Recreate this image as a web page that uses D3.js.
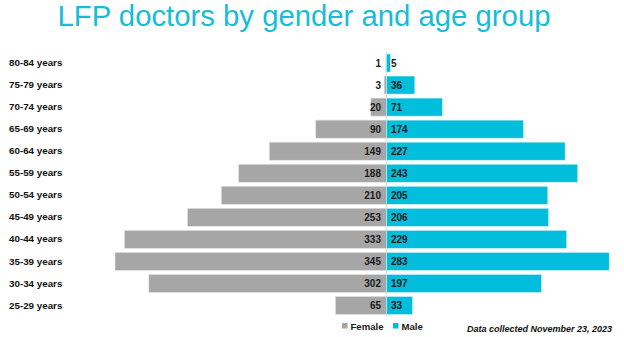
<!DOCTYPE html>
<html>
<head>
<meta charset="utf-8">
<script src="https://cdn.jsdelivr.net/npm/d3@7"></script>
<style>
  html, body { margin: 0; padding: 0; background: #fff; }
  svg { display: block; font-family: "Liberation Sans", Arial, sans-serif; }
</style>
</head>
<body>
<svg id="chart" width="624" height="337"></svg>
<script>
// Age groups, oldest at the top
const ageGroups = ["80-84 years", "75-79 years", "70-74 years", "65-69 years", "60-64 years",
  "55-59 years", "50-54 years", "45-49 years", "40-44 years", "35-39 years", "30-34 years", "25-29 years"];
const female = [1, 3, 20, 90, 149, 188, 210, 253, 333, 345, 302, 65];
const male = [5, 36, 71, 174, 227, 243, 205, 206, 229, 283, 197, 33];
const seriesNames = ["Female", "Male"];

const colors = { Female: "#A6A6A6", Male: "#00BEDC" };
const titleColor = "#17BCD7";

const svg = d3.select("#chart");
const centerX = 386.5;

// One scale shared by both sides so bar lengths are comparable
const len = d3.scaleLinear().domain([0, 345]).range([0, 271.5]);
const y = d3.scaleBand().domain(ageGroups).range([52, 316.5]).paddingInner(0.18).paddingOuter(0.09);

// Title
svg.append("text")
  .attr("x", 304).attr("y", 26)
  .attr("text-anchor", "middle")
  .attr("font-size", 29.3)
  .attr("fill", titleColor)
  .text("LFP doctors by gender and age group");

// Centre divider
svg.append("line")
  .attr("x1", centerX).attr("x2", centerX)
  .attr("y1", y.range()[0]).attr("y2", y.range()[1])
  .attr("stroke", "#D9D9D9").attr("stroke-width", 1);

const rows = ageGroups.map((g, i) => ({ group: g, f: female[i], m: male[i] }));

// Female bars extend to the left
svg.append("g").selectAll("rect").data(rows).join("rect")
  .attr("x", d => centerX - len(d.f))
  .attr("y", d => y(d.group))
  .attr("width", d => len(d.f))
  .attr("height", y.bandwidth())
  .attr("fill", colors.Female)
  .attr("stroke", "#E6E6E6").attr("stroke-width", 0.6);

// Male bars extend to the right
svg.append("g").selectAll("rect").data(rows).join("rect")
  .attr("x", centerX)
  .attr("y", d => y(d.group))
  .attr("width", d => len(d.m))
  .attr("height", y.bandwidth())
  .attr("fill", colors.Male)
  .attr("stroke", "#D6F3F8").attr("stroke-width", 0.6);

// Value labels beside the centre line
const valFont = { size: 10, weight: "bold", fill: "#1A1A1A" };
svg.append("g").selectAll("text").data(rows).join("text")
  .attr("x", centerX - 5.5)
  .attr("y", d => y(d.group) + y.bandwidth() / 2)
  .attr("dy", "0.36em")
  .attr("text-anchor", "end")
  .attr("font-size", valFont.size).attr("font-weight", valFont.weight).attr("fill", valFont.fill)
  .text(d => d.f);
svg.append("g").selectAll("text").data(rows).join("text")
  .attr("x", centerX + 4.5)
  .attr("y", d => y(d.group) + y.bandwidth() / 2)
  .attr("dy", "0.36em")
  .attr("text-anchor", "start")
  .attr("font-size", valFont.size).attr("font-weight", valFont.weight).attr("fill", valFont.fill)
  .text(d => d.m);

// Category axis on the far left
const axis = d3.axisLeft(y).tickSize(0).tickPadding(0);
const axisG = svg.append("g").attr("transform", "translate(9,0)").call(axis);
axisG.select(".domain").remove();
axisG.selectAll("text")
  .attr("text-anchor", "start")
  .attr("x", 0)
  .attr("font-size", 9.8)
  .attr("font-weight", "bold")
  .attr("fill", "#111")
  .attr("font-family", "'Liberation Sans', Arial, sans-serif");

// Legend
const legendX = { Female: 342, Male: 393 };
const legend = svg.append("g").selectAll("g").data(seriesNames).join("g")
  .attr("transform", d => `translate(${legendX[d]},329.5)`);
legend.append("rect")
  .attr("x", 0).attr("y", -6.5).attr("width", 5.5).attr("height", 5.5)
  .attr("fill", d => colors[d]);
legend.append("text")
  .attr("x", 8.5).attr("y", 0)
  .attr("font-size", 9.6).attr("font-weight", "bold").attr("fill", "#1A1A1A")
  .text(d => d);

// Footnote
svg.append("text")
  .attr("x", 612).attr("y", 332)
  .attr("text-anchor", "end")
  .attr("font-size", 9)
  .attr("font-weight", "bold").attr("font-style", "italic")
  .attr("fill", "#111")
  .text("Data collected November 23, 2023");
</script>
</body>
</html>
